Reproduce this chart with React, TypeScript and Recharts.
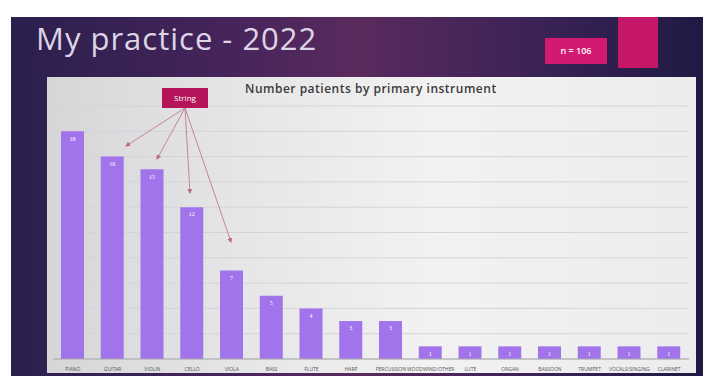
import { Bar, BarChart, CartesianGrid, LabelList, XAxis, YAxis } from "recharts"

const instruments = [
  "PIANO", "GUITAR", "VIOLIN", "CELLO", "VIOLA", "BASS", "FLUTE", "HARP",
  "PERCUSSION", "WOODWIND/OTHER", "LUTE", "ORGAN", "BASSOON", "TRUMPET", "VOCALS/SINGING", "CLARINET",
]
const patients = [18, 16, 15, 12, 7, 5, 4, 3, 3, 1, 1, 1, 1, 1, 1, 1]
const yTicks = [0, 2, 4, 6, 8, 10, 12, 14, 16, 18, 20]

const data = instruments.map((name, i) => ({ name, patients: patients[i] }))

// annotation arrows from the "String" box (overlay, not data)
const arrows = [
  [126, 146],
  [157, 159],
  [190, 193],
  [231, 242],
]

export default function App() {
  return (
    <div
      style={{
        position: "absolute",
        left: 0,
        top: 0,
        width: 703,
        height: 376,
        background: "#fff",
        overflow: "hidden",
      }}
    >
      <div
        style={{
          position: "absolute",
          left: 11,
          top: 17,
          width: 692,
          height: 359,
          background: "linear-gradient(90deg, #2a1f4d 0%, #44245a 30%, #5a2a5e 50%, #3c2356 75%, #1f1a43 100%)",
        }}
      />
      <div
        style={{
          position: "absolute",
          left: 36,
          top: 17,
          fontFamily: "'Open Sans', sans-serif",
          fontSize: 31,
          letterSpacing: 1,
          color: "#ddd5e6",
          lineHeight: "42px",
        }}
      >
        My practice - 2022
      </div>
      <div
        style={{
          position: "absolute",
          left: 545,
          top: 38,
          width: 62,
          height: 26,
          background: "#d21a72",
          color: "#fff",
          fontFamily: "'Open Sans', sans-serif",
          fontSize: 9,
          fontWeight: 600,
          lineHeight: "26px",
          textAlign: "center",
        }}
      >
        n = 106
      </div>
      <div style={{ position: "absolute", left: 618, top: 17, width: 40, height: 51, background: "#c41767" }} />
      <div
        style={{
          position: "absolute",
          left: 47,
          top: 77,
          width: 649,
          height: 296,
          background: "linear-gradient(90deg, #d6d6d9 0%, #e6e6e8 30%, #f2f2f2 60%, #ececee 100%)",
        }}
      />
      <div
        style={{
          position: "absolute",
          left: 245,
          top: 80,
          fontFamily: "'Open Sans', sans-serif",
          fontSize: 12,
          letterSpacing: 0.5,
          fontWeight: 600,
          color: "#3a3a3a",
        }}
      >
        Number patients by primary instrument
      </div>
      <div style={{ position: "absolute", left: 0, top: 0 }}>
        <BarChart
          width={703}
          height={376}
          data={data}
          margin={{ top: 106, right: 14, left: 53, bottom: 3 }}
        >
          <CartesianGrid horizontal={true} vertical={false} stroke="#d4d4d7" />
          <XAxis
            dataKey="name"
            interval={0}
            height={14}
            tickLine={false}
            axisLine={{ stroke: "#a8a8ac" }}
            tick={{ fontSize: 5, fill: "#555", fontFamily: "'Open Sans', sans-serif" }}
          />
          <YAxis hide domain={[0, 20]} ticks={yTicks} />
          <Bar dataKey="patients" fill="#a274ec" barSize={23} isAnimationActive={false}>
            <LabelList dataKey="patients" position="insideTop" fill="#fff" fontSize={6} />
          </Bar>
        </BarChart>
      </div>
      <svg width={703} height={376} style={{ position: "absolute", left: 0, top: 0 }}>
        <defs>
          <marker id="ah" markerWidth="5" markerHeight="5" refX="4" refY="2.5" orient="auto">
            <path d="M0,0 L5,2.5 L0,5 z" fill="#b86a86" />
          </marker>
        </defs>
        {arrows.map(([x, y], i) => (
          <line key={i} x1={185} y1={108} x2={x} y2={y} stroke="#c4849a" strokeWidth={1} markerEnd="url(#ah)" />
        ))}
        <rect x={162} y={88} width={46} height={20} fill="#b5145a" />
        <text x={185} y={101} textAnchor="middle" fontSize={8} fill="#fff" fontFamily="'Open Sans', sans-serif">
          String
        </text>
      </svg>
    </div>
  )
}
